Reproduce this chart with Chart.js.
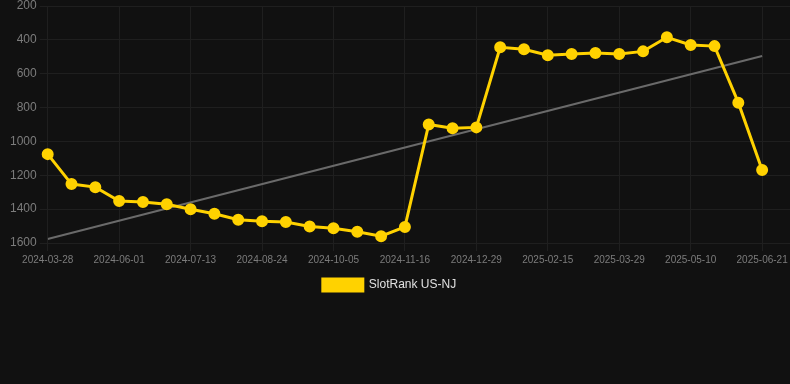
<!DOCTYPE html>
<html>
<head>
<meta charset="utf-8">
<script src="https://cdn.jsdelivr.net/npm/chart.js@4"></script>
<style>
  html, body { margin: 0; padding: 0; background: #111111; }
  #wrap { width: 790px; height: 384px; }
</style>
</head>
<body>
<div id="wrap"><canvas id="chart"></canvas></div>
<script>
// dates for each point (category labels)
const dates = [
  '2024-03-28', '2024-04-20', '2024-05-11', '2024-06-01', '2024-06-15', '2024-06-29',
  '2024-07-13', '2024-07-27', '2024-08-10', '2024-08-24', '2024-09-07', '2024-09-21',
  '2024-10-05', '2024-10-19', '2024-11-02', '2024-11-16', '2024-11-30', '2024-12-14',
  '2024-12-29', '2025-01-12', '2025-01-31', '2025-02-15', '2025-03-01', '2025-03-15',
  '2025-03-29', '2025-04-12', '2025-04-26', '2025-05-10', '2025-05-24', '2025-06-07',
  '2025-06-21'
];

// SlotRank US-NJ values
const ranks = [
  1075, 1252, 1270, 1352, 1358, 1371,
  1401, 1427, 1462, 1472, 1476, 1502,
  1513, 1533, 1560, 1505, 900, 922,
  917, 444, 456, 491, 484, 478,
  484, 468, 385, 430, 437, 771,
  1169
];

// trend line end values (first and last date)
const trendEnds = [1576, 495];

// y axis ticks
const yMin = 200;
const yMax = 1600;
const yStep = 200;

const rankPoints = ranks.map((v, i) => ({ x: i, y: v }));
const trendPoints = [
  { x: 0, y: trendEnds[0] },
  { x: dates.length - 1, y: trendEnds[1] }
];

// nudge the legend a bit to the left, like the original
const legendShift = {
  id: 'legendShift',
  afterLayout(chart) {
    if (chart.legend) {
      chart.legend.left -= 9;
      chart.legend.right -= 9;
    }
  }
};

const ctx = document.getElementById('chart').getContext('2d');

new Chart(ctx, {
  type: 'line',
  data: {
    datasets: [
      {
        label: 'SlotRank US-NJ',
        data: rankPoints,
        borderColor: '#FFD200',
        backgroundColor: '#FFD200',
        borderWidth: 3,
        pointRadius: 4.5,
        pointHoverRadius: 6,
        pointBackgroundColor: '#FFD200',
        pointBorderColor: '#FFD200',
        tension: 0,
        clip: false,
        order: 1
      },
      {
        label: 'trend',
        data: trendPoints,
        borderColor: '#6a6a6a',
        borderWidth: 2,
        pointRadius: 0,
        fill: false,
        order: 2
      }
    ]
  },
  plugins: [legendShift],
  options: {
    responsive: true,
    maintainAspectRatio: false,
    animation: false,
    layout: {
      autoPadding: false,
      padding: { left: 7, right: 0, top: 6, bottom: 83 }
    },
    scales: {
      x: {
        type: 'linear',
        min: 0,
        max: 31.17,
        grid: { color: '#1f1f1f' },
        border: { display: false },
        afterFit: s => { s.paddingLeft = 0; s.paddingRight = 0; },
        ticks: {
          stepSize: 3,
          includeBounds: false,
          autoSkip: false,
          maxRotation: 0,
          color: '#7c7c7c',
          font: { size: 10, family: 'Liberation Sans, Arial, sans-serif' },
          callback: v => dates[v] || ''
        }
      },
      y: {
        reverse: true,
        min: yMin,
        max: yMax,
        grid: { color: '#1f1f1f' },
        border: { display: false },
        afterFit: s => { s.paddingTop = 0; s.paddingBottom = 0; },
        ticks: {
          stepSize: yStep,
          color: '#7c7c7c',
          font: { size: 12, family: 'Liberation Sans, Arial, sans-serif' },
          callback: v => String(v)
        }
      }
    },
    plugins: {
      legend: {
        position: 'bottom',
        labels: {
          color: '#e0e0e0',
          boxHeight: 12,
          font: { size: 12, family: 'Liberation Sans, Arial, sans-serif' },
          filter: item => item.text !== 'trend'
        }
      },
      tooltip: { enabled: false }
    }
  }
});
</script>
</body>
</html>
